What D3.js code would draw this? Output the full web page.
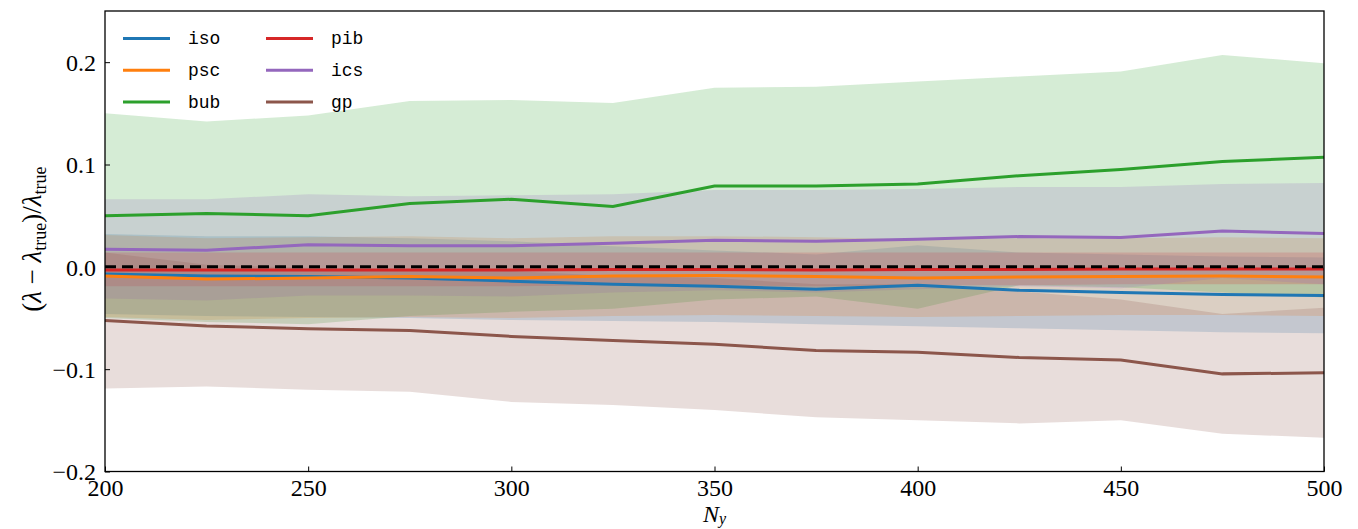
<!DOCTYPE html>
<html>
<head>
<meta charset="utf-8">
<script src="https://cdn.jsdelivr.net/npm/d3@7"></script>
<style>
  body { margin: 0; background: #fff; }
  svg text { fill: #000; }
</style>
</head>
<body>
<div id="chart"></div>
<script>
// sample sizes on the x axis
var nY = [200, 225, 250, 275, 300, 325, 350, 375, 400, 425, 450, 475, 500];

// mean relative error per model
var isoMean = [-0.007, -0.009, -0.0095, -0.011, -0.014, -0.017, -0.019, -0.022, -0.018, -0.023, -0.025, -0.027, -0.028];
var pscMean = [-0.009, -0.012, -0.011, -0.0095, -0.011, -0.009, -0.0085, -0.0095, -0.011, -0.010, -0.0095, -0.009, -0.010];
var bubMean = [0.050, 0.052, 0.050, 0.062, 0.066, 0.059, 0.079, 0.079, 0.081, 0.089, 0.095, 0.103, 0.107];
var pibMean = [-0.003, -0.003, -0.003, -0.003, -0.003, -0.0025, -0.0025, -0.003, -0.0025, -0.0025, -0.002, -0.002, -0.002];
var icsMean = [0.0173, 0.0163, 0.0215, 0.0205, 0.0205, 0.023, 0.026, 0.025, 0.027, 0.0296, 0.0287, 0.035, 0.0326];
var gpMean  = [-0.0525, -0.0577, -0.0606, -0.0622, -0.068, -0.072, -0.0756, -0.0818, -0.0834, -0.0886, -0.091, -0.1046, -0.1036];

// lower / upper edge of the shaded spread
var isoLo = [-0.046, -0.048, -0.049, -0.050, -0.052, -0.053, -0.054, -0.056, -0.058, -0.060, -0.062, -0.064, -0.065];
var isoHi = [0.032, 0.030, 0.030, 0.028, 0.025, 0.020, 0.016, 0.012, 0.021, 0.014, 0.012, 0.010, 0.009];
var pscLo = [-0.049, -0.052, -0.050, -0.049, -0.050, -0.048, -0.047, -0.048, -0.049, -0.048, -0.047, -0.047, -0.048];
var pscHi = [0.031, 0.028, 0.029, 0.030, 0.028, 0.030, 0.030, 0.029, 0.027, 0.028, 0.028, 0.029, 0.028];
var bubLo = [-0.050, -0.054, -0.056, -0.048, -0.044, -0.041, -0.032, -0.029, -0.041, -0.018, -0.020, -0.025, -0.030];
var bubHi = [0.150, 0.142, 0.148, 0.162, 0.163, 0.160, 0.175, 0.176, 0.181, 0.186, 0.191, 0.207, 0.199];
var pibLo = [-0.019, -0.019, -0.019, -0.019, -0.019, -0.018, -0.018, -0.019, -0.018, -0.018, -0.017, -0.017, -0.017];
var pibHi = [0.014, 0.014, 0.014, 0.014, 0.014, 0.014, 0.014, 0.014, 0.014, 0.014, 0.014, 0.014, 0.014];
var icsLo = [-0.031, -0.033, -0.028, -0.028, -0.029, -0.025, -0.023, -0.025, -0.022, -0.019, -0.021, -0.011, -0.017];
var icsHi = [0.066, 0.066, 0.071, 0.069, 0.070, 0.071, 0.075, 0.075, 0.076, 0.078, 0.078, 0.081, 0.082];
var gpLo  = [-0.119, -0.117, -0.120, -0.122, -0.132, -0.135, -0.140, -0.147, -0.150, -0.153, -0.150, -0.163, -0.167];
var gpHi  = [0.014, 0.002, -0.001, -0.003, -0.004, -0.009, -0.011, -0.017, -0.017, -0.024, -0.032, -0.046, -0.040];

var xTicks = [200, 250, 300, 350, 400, 450, 500];
var yTicks = [-0.2, -0.1, 0.0, 0.1, 0.2];

var series = [
  {name: "iso", color: "#1f77b4", mean: isoMean, lo: isoLo, hi: isoHi},
  {name: "psc", color: "#ff7f0e", mean: pscMean, lo: pscLo, hi: pscHi},
  {name: "bub", color: "#2ca02c", mean: bubMean, lo: bubLo, hi: bubHi},
  {name: "pib", color: "#d62728", mean: pibMean, lo: pibLo, hi: pibHi},
  {name: "ics", color: "#9467bd", mean: icsMean, lo: icsLo, hi: icsHi},
  {name: "gp",  color: "#8c564b", mean: gpMean,  lo: gpLo,  hi: gpHi}
];

var W = 1358, H = 529;
var margin = {top: 11, right: 34, bottom: 57.5, left: 105};

var svg = d3.select("#chart")
  .append("svg")
  .attr("width", W)
  .attr("height", H);

var x = d3.scaleLinear().domain([200, 500]).range([margin.left, W - margin.right]);
var y = d3.scaleLinear().domain([-0.2, 0.25]).range([H - margin.bottom, margin.top]);

svg.append("clipPath").attr("id", "plotclip")
  .append("rect")
  .attr("x", margin.left).attr("y", margin.top)
  .attr("width", W - margin.left - margin.right)
  .attr("height", H - margin.top - margin.bottom);

var plot = svg.append("g").attr("clip-path", "url(#plotclip)");

// shaded spreads first
series.forEach(function(s) {
  var area = d3.area()
    .x(function(d, i) { return x(nY[i]); })
    .y0(function(d, i) { return y(s.lo[i]); })
    .y1(function(d, i) { return y(s.hi[i]); });
  plot.append("path")
    .datum(nY)
    .attr("d", area)
    .style("fill", s.color)
    .style("fill-opacity", 0.2)
    .style("stroke", "none");
});

// mean lines
series.forEach(function(s) {
  var line = d3.line()
    .x(function(d, i) { return x(nY[i]); })
    .y(function(d, i) { return y(s.mean[i]); });
  plot.append("path")
    .datum(nY)
    .attr("d", line)
    .style("fill", "none")
    .style("stroke", s.color)
    .style("stroke-width", 3);
});

// zero reference
plot.append("line")
  .attr("x1", x(200)).attr("x2", x(500))
  .attr("y1", y(0)).attr("y2", y(0))
  .style("stroke", "#000")
  .style("stroke-width", 3)
  .style("stroke-dasharray", "11,6");

// axes, ticks pointing in
var xAxis = svg.append("g")
  .attr("transform", "translate(0," + (H - margin.bottom) + ")")
  .call(d3.axisBottom(x).tickValues(xTicks).tickSize(-5).tickPadding(7).tickFormat(d3.format("d")));
var yAxis = svg.append("g")
  .attr("transform", "translate(" + margin.left + ",0)")
  .call(d3.axisLeft(y).tickValues(yTicks).tickSize(-5).tickPadding(9).tickFormat(d3.format(".1f")));

[xAxis, yAxis].forEach(function(a) {
  a.select(".domain").remove();
  a.selectAll(".tick line").style("stroke", "#000").style("stroke-width", 1);
  a.selectAll(".tick text")
    .style("font-family", "'Liberation Serif', 'DejaVu Serif', serif")
    .style("font-size", "24px");
});
yAxis.selectAll(".tick text").attr("dy", "0.35em");

svg.append("rect")
  .attr("x", margin.left).attr("y", margin.top)
  .attr("width", W - margin.left - margin.right)
  .attr("height", H - margin.top - margin.bottom)
  .style("fill", "none")
  .style("stroke", "#000")
  .style("stroke-width", 1.3);

// axis labels
var yl = svg.append("text")
  .attr("transform", "translate(41," + y(0.027) + ") rotate(-90)")
  .attr("text-anchor", "middle")
  .style("font-family", "'Liberation Serif', 'DejaVu Serif', serif")
  .style("font-size", "27px");
yl.append("tspan").text("(");
yl.append("tspan").style("font-style", "italic").text("λ");
yl.append("tspan").text(" − ");
yl.append("tspan").style("font-style", "italic").text("λ");
yl.append("tspan").attr("dy", 5).style("font-size", "18px").text("true");
yl.append("tspan").attr("dy", -5).text(")/");
yl.append("tspan").style("font-style", "italic").text("λ");
yl.append("tspan").attr("dy", 5).style("font-size", "18px").text("true");

var xl = svg.append("text")
  .attr("x", x(350))
  .attr("y", 522)
  .attr("text-anchor", "middle")
  .style("font-family", "'Liberation Serif', 'DejaVu Serif', serif")
  .style("font-size", "24px");
xl.append("tspan").style("font-style", "italic").text("N");
xl.append("tspan").attr("dy", 2).style("font-style", "italic").style("font-size", "16px").text("y");

// legend, two columns
var legend = svg.append("g");
series.forEach(function(s, i) {
  var col = Math.floor(i / 3), row = i % 3;
  var g = legend.append("g")
    .attr("transform", "translate(" + (123 + col * 143) + "," + (38.5 + row * 31.7) + ")");
  g.append("line")
    .attr("x1", 0).attr("x2", 47)
    .style("stroke", s.color)
    .style("stroke-width", 3);
  g.append("text")
    .attr("x", 65)
    .attr("dy", "0.32em")
    .style("font-family", "'Liberation Mono', 'DejaVu Sans Mono', monospace")
    .style("font-size", "18px")
    .text(s.name);
});
</script>
</body>
</html>
